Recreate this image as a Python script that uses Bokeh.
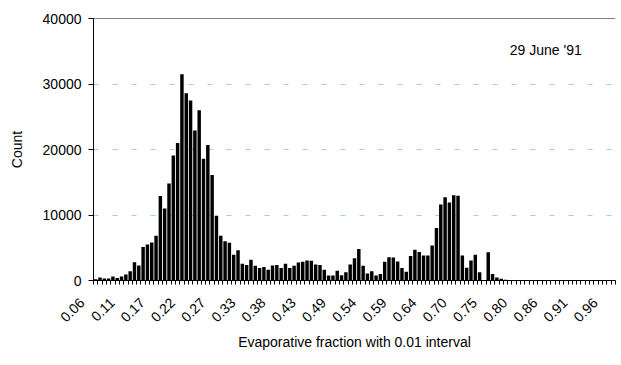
import math
from bokeh.plotting import figure
from bokeh.models import (Range1d, FixedTicker, Span, Label, ColumnDataSource,
                          NumeralTickFormatter)
from bokeh.embed import file_html
from bokeh.resources import INLINE

# ---- data ----
counts = [
    200, 450, 300, 300, 600, 400, 600, 900, 1400, 2800,
    2300, 5100, 5500, 5800, 6850, 12900, 11000, 14800, 19100, 21000,
    31500, 28600, 27500, 22900, 26000, 18600, 20700, 16100, 9900, 6850,
    6000, 5750, 3950, 4600, 2550, 2350, 3150, 2250, 1900, 2050,
    1650, 2300, 2350, 1900, 2550, 1900, 2250, 2750, 2850, 3050,
    3000, 2450, 2350, 1650, 750, 750, 1500, 800, 1250, 2450,
    3400, 4800, 2250, 1050, 1400, 750, 1000, 2850, 3550, 3500,
    2900, 1900, 1350, 3750, 4700, 4350, 3800, 3800, 5350, 8000,
    11600, 12700, 11900, 13000, 12950, 3800, 1950, 3050, 3950, 1250,
    50, 4300, 1000, 450, 250, 100, 60, 40, 30, 20,
    20, 10, 10, 10, 0, 0, 0, 0, 0, 0,
    0, 0, 0, 0, 0, 0, 0, 0, 0, 0,
    0,
]
tick_labels = ["0.06", "0.11", "0.17", "0.22", "0.27", "0.33", "0.38", "0.43", "0.49",
               "0.54", "0.59", "0.64", "0.70", "0.75", "0.80", "0.86", "0.91", "0.96"]
label_every = 7
y_ticks = [0, 10000, 20000, 30000, 40000]
annotation = "29 June '91"

n = len(counts)
xs = list(range(n))
label_idx = [i * label_every for i in range(len(tick_labels))]
pad = "\u00a0" * 5  # trailing gap so the rotated label sits down-left of its category

FONT = "Liberation Sans"

p = figure(width=621, height=365,
           x_range=Range1d(-0.5, n - 0.5), y_range=Range1d(0, 40000),
           output_backend="svg", toolbar_location=None,
           min_border_left=93, min_border_right=6, min_border_top=18, min_border_bottom=85)
p.outline_line_color = None
p.background_fill_color = "white"
p.border_fill_color = "white"

src = ColumnDataSource(dict(x=xs, count=counts))
p.vbar(x="x", top="count", width=0.8, source=src, fill_color="black", line_color=None)

# grid
p.xgrid.visible = False
p.ygrid.ticker = FixedTicker(ticks=y_ticks[1:-1])
p.ygrid.grid_line_color = "#99CCFF"
p.ygrid.grid_line_dash = "5 14"
p.ygrid.grid_line_width = 1

# top border line
p.add_layout(Span(location=40000, dimension="width", line_color="black", line_width=1))

# y axis
ya = p.yaxis[0]
ya.ticker = FixedTicker(ticks=y_ticks)
ya.formatter = NumeralTickFormatter(format="0")
ya.major_tick_in = 0
ya.major_tick_out = 5
ya.minor_tick_out = 0
ya.minor_tick_in = 0
ya.axis_line_color = "black"
ya.major_tick_line_color = "black"
ya.major_label_text_font = FONT
ya.major_label_text_font_size = "14px"
ya.major_label_text_color = "black"
ya.major_label_standoff = 7
ya.axis_label = "Count"
ya.axis_label_text_font = FONT
ya.axis_label_text_font_size = "14px"
ya.axis_label_text_font_style = "normal"
ya.axis_label_text_color = "black"
ya.axis_label_standoff = 15

# x axis
xa = p.xaxis[0]
xa.ticker = FixedTicker(ticks=label_idx, minor_ticks=[i - 0.5 for i in range(n + 1)])
xa.major_label_overrides = {i: t + pad for i, t in zip(label_idx, tick_labels)}
xa.major_tick_in = 0
xa.major_tick_out = 0
xa.minor_tick_in = 0
xa.minor_tick_out = 4
xa.minor_tick_line_color = "black"
xa.axis_line_color = "black"
xa.major_label_orientation = math.pi / 4
xa.major_label_text_font = FONT
xa.major_label_text_font_size = "14px"
xa.major_label_text_color = "black"
xa.major_label_standoff = 2
xa.axis_label = "Evaporative fraction with 0.01 interval"
xa.axis_label_text_font = FONT
xa.axis_label_text_font_size = "14px"
xa.axis_label_text_font_style = "normal"
xa.axis_label_text_color = "black"
xa.axis_label_standoff = 0

p.add_layout(Label(x=96.0, y=35200, text=annotation, text_font=FONT, text_font_size="14px",
                   text_color="black", text_baseline="alphabetic", text_align="left"))

open("out.html", "w").write(file_html(p, INLINE))
